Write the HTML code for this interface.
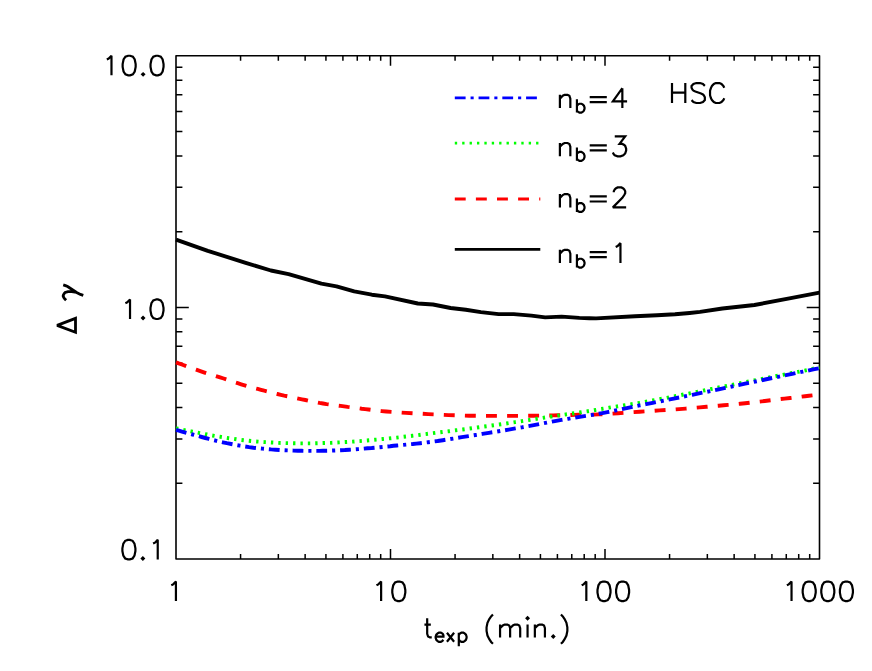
<!DOCTYPE html>
<html><head><meta charset="utf-8"><title>chart</title>
<style>html,body{margin:0;padding:0;background:#fff;font-family:"Liberation Sans",sans-serif;}svg{display:block}</style>
</head><body>
<svg width="872" height="671" viewBox="0 0 872 671">
<rect width="872" height="671" fill="#fff"/>
<path d="M176.00,55.80 H819.50 V559.00 H176.00 Z" fill="none" stroke="#000" stroke-width="1.6" stroke-linejoin="round"/>
<path d="M240.57,559.00 v-5.00 M240.57,55.80 v5.00 M278.34,559.00 v-5.00 M278.34,55.80 v5.00 M305.14,559.00 v-5.00 M305.14,55.80 v5.00 M325.93,559.00 v-5.00 M325.93,55.80 v5.00 M342.91,559.00 v-5.00 M342.91,55.80 v5.00 M357.27,559.00 v-5.00 M357.27,55.80 v5.00 M369.71,559.00 v-5.00 M369.71,55.80 v5.00 M380.69,559.00 v-5.00 M380.69,55.80 v5.00 M390.50,559.00 v-10.00 M390.50,55.80 v10.00 M455.07,559.00 v-5.00 M455.07,55.80 v5.00 M492.84,559.00 v-5.00 M492.84,55.80 v5.00 M519.64,559.00 v-5.00 M519.64,55.80 v5.00 M540.43,559.00 v-5.00 M540.43,55.80 v5.00 M557.41,559.00 v-5.00 M557.41,55.80 v5.00 M571.77,559.00 v-5.00 M571.77,55.80 v5.00 M584.21,559.00 v-5.00 M584.21,55.80 v5.00 M595.19,559.00 v-5.00 M595.19,55.80 v5.00 M605.00,559.00 v-10.00 M605.00,55.80 v10.00 M669.57,559.00 v-5.00 M669.57,55.80 v5.00 M707.34,559.00 v-5.00 M707.34,55.80 v5.00 M734.14,559.00 v-5.00 M734.14,55.80 v5.00 M754.93,559.00 v-5.00 M754.93,55.80 v5.00 M771.91,559.00 v-5.00 M771.91,55.80 v5.00 M786.27,559.00 v-5.00 M786.27,55.80 v5.00 M798.71,559.00 v-5.00 M798.71,55.80 v5.00 M809.69,559.00 v-5.00 M809.69,55.80 v5.00 M176.00,483.26 h6.40 M819.50,483.26 h-6.40 M176.00,438.96 h6.40 M819.50,438.96 h-6.40 M176.00,407.52 h6.40 M819.50,407.52 h-6.40 M176.00,383.14 h6.40 M819.50,383.14 h-6.40 M176.00,363.22 h6.40 M819.50,363.22 h-6.40 M176.00,346.37 h6.40 M819.50,346.37 h-6.40 M176.00,331.78 h6.40 M819.50,331.78 h-6.40 M176.00,318.91 h6.40 M819.50,318.91 h-6.40 M176.00,307.40 h12.80 M819.50,307.40 h-12.80 M176.00,231.66 h6.40 M819.50,231.66 h-6.40 M176.00,187.36 h6.40 M819.50,187.36 h-6.40 M176.00,155.92 h6.40 M819.50,155.92 h-6.40 M176.00,131.54 h6.40 M819.50,131.54 h-6.40 M176.00,111.62 h6.40 M819.50,111.62 h-6.40 M176.00,94.77 h6.40 M819.50,94.77 h-6.40 M176.00,80.18 h6.40 M819.50,80.18 h-6.40 M176.00,67.31 h6.40 M819.50,67.31 h-6.40" fill="none" stroke="#000" stroke-width="1.5"/>
<g fill="none" stroke-linejoin="round">
<path d="M176.0,239.7 L207.8,250.8 L245.7,262.9 L270.9,270.5 L288.6,274.2 L321.4,283.6 L336.5,286.3 L354.2,291.4 L371.8,294.7 L385.0,296.4 L417.8,303.5 L433.0,304.5 L450.6,308.0 L465.8,309.8 L480.9,312.1 L498.6,314.1 L513.7,314.1 L531.4,315.6 L545.2,317.4 L561.6,316.6 L579.3,317.9 L589.4,318.2 L596.0,318.4 L635.0,316.3 L657.0,315.2 L675.0,314.3 L689.7,313.0 L700.0,311.9 L722.4,308.5 L754.4,305.0 L789.4,298.3 L819.5,292.6" stroke="#000" stroke-width="3.9"/>
<path d="M176.0,362.4 L178.7,363.4 L182.5,364.7 L186.9,366.4 L191.6,368.1 L196.2,369.7 L200.3,371.1 L203.8,372.3 L207.2,373.4 L210.4,374.4 L213.6,375.3 L216.8,376.3 L220.1,377.4 L223.6,378.5 L227.1,379.7 L230.7,380.9 L234.2,382.1 L237.7,383.2 L241.2,384.3 L244.6,385.3 L247.9,386.3 L251.2,387.2 L254.4,388.1 L257.7,388.9 L261.0,389.8 L264.3,390.7 L267.6,391.5 L270.8,392.4 L274.1,393.2 L277.4,394.0 L280.8,394.8 L284.2,395.6 L287.7,396.3 L291.3,397.1 L294.8,397.8 L298.4,398.6 L301.9,399.3 L305.4,400.0 L308.9,400.8 L312.4,401.5 L316.0,402.2 L319.5,402.9 L323.0,403.5 L326.5,404.1 L330.0,404.6 L333.6,405.0 L337.1,405.5 L340.6,405.9 L344.1,406.4 L347.6,406.9 L351.1,407.3 L354.7,407.8 L358.2,408.2 L361.7,408.7 L365.2,409.1 L368.5,409.5 L371.5,409.9 L374.5,410.3 L377.7,410.7 L381.6,411.1 L386.3,411.5 L392.1,411.9 L398.8,412.4 L406.0,412.9 L413.5,413.3 L421.0,413.7 L428.2,414.1 L435.1,414.4 L441.9,414.8 L448.6,415.1 L455.4,415.3 L462.2,415.5 L469.1,415.7 L476.1,415.8 L483.1,415.9 L490.1,415.9 L497.2,415.9 L504.3,415.9 L511.3,415.9 L518.6,415.9 L526.1,415.8 L533.7,415.7 L541.0,415.6 L547.7,415.5 L553.5,415.4 L558.2,415.3 L562.0,415.2 L565.2,415.1 L568.1,415.1 L571.2,415.0 L574.6,414.9 L578.2,414.8 L581.7,414.8 L585.2,414.8 L589.1,414.7 L593.4,414.6 L598.4,414.4 L604.3,414.1 L610.9,413.7 L618.0,413.2 L625.3,412.7 L632.6,412.2 L639.6,411.7 L646.3,411.3 L652.9,410.9 L659.5,410.4 L666.0,410.0 L672.5,409.6 L679.1,409.1 L685.8,408.6 L692.8,408.0 L699.7,407.4 L706.5,406.8 L712.9,406.2 L718.7,405.7 L723.7,405.3 L728.0,404.9 L731.9,404.6 L735.8,404.2 L740.1,403.8 L745.1,403.3 L751.1,402.6 L757.7,401.8 L764.8,401.0 L771.8,400.1 L778.5,399.3 L784.6,398.6 L790.1,398.0 L795.5,397.3 L800.5,396.8 L805.0,396.2 L809.0,395.8 L812.3,395.4 L814.8,395.1 L816.5,394.9 L817.6,394.8 L818.4,394.7 L819.0,394.7 L819.5,394.6" stroke="#ff0000" stroke-width="3.9" stroke-dasharray="10.9 10.2"/>
<path d="M176.0,428.3 L178.6,428.8 L182.3,429.6 L186.5,430.5 L191.1,431.4 L195.7,432.3 L199.8,433.1 L203.5,433.8 L207.1,434.5 L210.7,435.2 L214.2,435.8 L217.8,436.4 L221.4,437.0 L225.1,437.6 L228.9,438.2 L232.7,438.7 L236.5,439.3 L240.2,439.8 L243.9,440.2 L247.5,440.6 L251.0,441.0 L254.5,441.3 L258.0,441.6 L261.5,441.9 L265.0,442.1 L268.5,442.3 L272.0,442.5 L275.5,442.7 L279.0,442.9 L282.5,443.0 L286.0,443.1 L289.5,443.2 L293.1,443.3 L296.6,443.3 L300.1,443.4 L303.7,443.4 L307.2,443.4 L310.7,443.4 L314.2,443.3 L317.8,443.2 L321.3,443.1 L324.8,443.0 L328.3,442.9 L331.8,442.8 L335.3,442.6 L338.9,442.4 L342.4,442.2 L345.9,442.0 L349.4,441.8 L352.9,441.6 L356.2,441.3 L359.6,441.1 L363.1,440.8 L366.7,440.5 L370.5,440.2 L374.5,439.8 L378.7,439.5 L383.0,439.0 L387.4,438.6 L392.1,438.1 L396.9,437.6 L401.9,437.0 L407.1,436.4 L412.4,435.8 L418.0,435.1 L423.7,434.3 L429.6,433.6 L435.8,432.8 L442.3,432.0 L448.9,431.2 L455.7,430.3 L462.4,429.5 L469.1,428.6 L475.7,427.7 L482.3,426.8 L488.9,425.9 L495.5,425.0 L502.1,424.1 L508.7,423.1 L515.3,422.1 L521.9,421.1 L528.5,420.1 L535.1,419.0 L541.7,418.0 L548.3,417.0 L555.0,416.0 L561.8,415.0 L568.6,414.0 L575.3,413.1 L581.7,412.1 L587.8,411.2 L593.5,410.3 L598.9,409.4 L604.1,408.6 L609.1,407.7 L613.8,406.9 L618.2,406.2 L622.1,405.6 L625.3,405.1 L628.3,404.7 L631.5,404.2 L635.1,403.6 L639.6,402.8 L645.1,401.8 L651.4,400.6 L658.2,399.4 L665.3,398.1 L672.3,396.7 L679.1,395.4 L685.7,394.1 L692.3,392.8 L698.9,391.5 L705.5,390.2 L712.1,388.8 L718.7,387.5 L725.3,386.2 L731.9,384.9 L738.5,383.5 L745.1,382.2 L751.7,380.9 L758.3,379.6 L765.1,378.3 L772.1,376.9 L779.2,375.5 L786.0,374.2 L792.2,373.0 L797.8,371.9 L802.7,370.9 L807.2,370.0 L811.1,369.2 L814.5,368.4 L817.3,367.9 L819.5,367.4" stroke="#00ff00" stroke-width="3.9" stroke-dasharray="2.35 5.04"/>
<path d="M176.0,429.9 L178.8,430.7 L182.8,431.8 L187.5,433.1 L192.5,434.5 L197.4,435.8 L201.7,437.0 L205.4,438.0 L208.9,438.9 L212.2,439.8 L215.6,440.6 L219.0,441.5 L222.8,442.3 L226.9,443.2 L231.2,444.0 L235.6,444.9 L240.1,445.7 L244.7,446.4 L249.1,447.1 L253.5,447.7 L257.9,448.2 L262.3,448.6 L266.7,449.0 L271.1,449.4 L275.5,449.7 L280.0,450.0 L284.5,450.2 L289.0,450.4 L293.5,450.6 L297.8,450.7 L301.9,450.8 L305.7,450.9 L309.1,450.9 L312.4,450.9 L315.8,450.9 L319.2,450.9 L323.0,450.8 L327.1,450.7 L331.4,450.6 L335.9,450.4 L340.4,450.2 L344.9,450.0 L349.4,449.7 L353.9,449.4 L358.4,449.1 L362.9,448.7 L367.4,448.3 L371.7,448.0 L375.8,447.6 L379.6,447.2 L383.3,446.9 L386.8,446.5 L390.2,446.2 L393.5,445.8 L396.9,445.5 L400.2,445.2 L403.3,444.9 L406.3,444.6 L409.4,444.3 L412.8,444.0 L416.4,443.6 L420.2,443.2 L424.2,442.7 L428.3,442.2 L432.8,441.6 L437.6,441.0 L442.8,440.2 L448.6,439.3 L455.0,438.3 L461.7,437.2 L468.6,436.1 L475.6,435.0 L482.3,433.9 L488.9,432.8 L495.5,431.8 L502.1,430.7 L508.7,429.6 L515.3,428.4 L521.9,427.3 L528.5,426.1 L535.1,424.9 L541.7,423.6 L548.3,422.3 L554.9,421.1 L561.5,419.9 L568.1,418.8 L574.7,417.7 L581.3,416.6 L587.9,415.6 L594.5,414.5 L601.0,413.3 L607.5,412.1 L613.9,410.8 L620.3,409.4 L626.7,408.1 L633.1,406.7 L639.6,405.4 L646.1,404.1 L652.7,402.8 L659.3,401.5 L665.9,400.2 L672.5,398.8 L679.1,397.5 L685.7,396.2 L692.3,394.8 L698.9,393.4 L705.5,392.1 L712.1,390.7 L718.7,389.3 L725.3,387.9 L731.9,386.5 L738.5,385.1 L745.1,383.7 L751.7,382.3 L758.3,380.9 L765.1,379.5 L772.1,378.0 L779.2,376.6 L786.0,375.2 L792.2,373.9 L797.8,372.7 L802.7,371.7 L807.2,370.8 L811.1,369.9 L814.5,369.2 L817.3,368.6 L819.5,368.2" stroke="#0000ff" stroke-width="3.9" stroke-dasharray="10.8 4.97 3.1 4.89"/>
</g>
<path d="M171.28,585.29 L173.14,584.36 L175.93,581.57 L175.93,601.10 M376.48,585.29 L378.34,584.36 L381.13,581.57 L381.13,601.10 M397.87,581.57 L395.08,582.50 L393.22,585.29 L392.29,589.94 L392.29,592.73 L393.22,597.38 L395.08,600.17 L397.87,601.10 L399.73,601.10 L402.52,600.17 L404.38,597.38 L405.31,592.73 L405.31,589.94 L404.38,585.29 L402.52,582.50 L399.73,581.57 Z M581.68,585.29 L583.54,584.36 L586.33,581.57 L586.33,601.10 M603.07,581.57 L600.28,582.50 L598.42,585.29 L597.49,589.94 L597.49,592.73 L598.42,597.38 L600.28,600.17 L603.07,601.10 L604.93,601.10 L607.72,600.17 L609.58,597.38 L610.51,592.73 L610.51,589.94 L609.58,585.29 L607.72,582.50 L604.93,581.57 Z M621.67,581.57 L618.88,582.50 L617.02,585.29 L616.09,589.94 L616.09,592.73 L617.02,597.38 L618.88,600.17 L621.67,601.10 L623.53,601.10 L626.32,600.17 L628.18,597.38 L629.11,592.73 L629.11,589.94 L628.18,585.29 L626.32,582.50 L623.53,581.57 Z M786.88,585.29 L788.74,584.36 L791.53,581.57 L791.53,601.10 M808.27,581.57 L805.48,582.50 L803.62,585.29 L802.69,589.94 L802.69,592.73 L803.62,597.38 L805.48,600.17 L808.27,601.10 L810.13,601.10 L812.92,600.17 L814.78,597.38 L815.71,592.73 L815.71,589.94 L814.78,585.29 L812.92,582.50 L810.13,581.57 Z M826.87,581.57 L824.08,582.50 L822.22,585.29 L821.29,589.94 L821.29,592.73 L822.22,597.38 L824.08,600.17 L826.87,601.10 L828.73,601.10 L831.52,600.17 L833.38,597.38 L834.31,592.73 L834.31,589.94 L833.38,585.29 L831.52,582.50 L828.73,581.57 Z M845.47,581.57 L842.68,582.50 L840.82,585.29 L839.89,589.94 L839.89,592.73 L840.82,597.38 L842.68,600.17 L845.47,601.10 L847.33,601.10 L850.12,600.17 L851.98,597.38 L852.91,592.73 L852.91,589.94 L851.98,585.29 L850.12,582.50 L847.33,581.57 Z M106.83,59.49 L108.69,58.56 L111.48,55.77 L111.48,75.30 M128.22,55.77 L125.43,56.70 L123.57,59.49 L122.64,64.14 L122.64,66.93 L123.57,71.58 L125.43,74.37 L128.22,75.30 L130.08,75.30 L132.87,74.37 L134.73,71.58 L135.66,66.93 L135.66,64.14 L134.73,59.49 L132.87,56.70 L130.08,55.77 Z M143.10,73.44 L142.17,74.37 L143.10,75.30 L144.03,74.37 Z M156.12,55.77 L153.33,56.70 L151.47,59.49 L150.54,64.14 L150.54,66.93 L151.47,71.58 L153.33,74.37 L156.12,75.30 L157.98,75.30 L160.77,74.37 L162.63,71.58 L163.56,66.93 L163.56,64.14 L162.63,59.49 L160.77,56.70 L157.98,55.77 Z M125.38,303.19 L127.24,302.26 L130.03,299.47 L130.03,319.00 M143.05,317.14 L142.12,318.07 L143.05,319.00 L143.98,318.07 Z M156.07,299.47 L153.28,300.40 L151.42,303.19 L150.49,307.84 L150.49,310.63 L151.42,315.28 L153.28,318.07 L156.07,319.00 L157.93,319.00 L160.72,318.07 L162.58,315.28 L163.51,310.63 L163.51,307.84 L162.58,303.19 L160.72,300.40 L157.93,299.47 Z M127.97,539.87 L125.18,540.80 L123.32,543.59 L122.39,548.24 L122.39,551.03 L123.32,555.68 L125.18,558.47 L127.97,559.40 L129.83,559.40 L132.62,558.47 L134.48,555.68 L135.41,551.03 L135.41,548.24 L134.48,543.59 L132.62,540.80 L129.83,539.87 Z M142.85,557.54 L141.92,558.47 L142.85,559.40 L143.78,558.47 Z M153.08,543.59 L154.94,542.66 L157.73,539.87 L157.73,559.40 M559.90,94.80 L559.90,108.10 M559.90,98.60 L562.75,95.75 L564.65,94.80 L567.50,94.80 L569.40,95.75 L570.35,98.60 L570.35,108.10 M576.93,99.31 L576.93,112.60 M576.93,105.64 L578.20,104.37 L579.46,103.74 L581.36,103.74 L582.63,104.37 L583.89,105.64 L584.53,107.54 L584.53,108.80 L583.89,110.70 L582.63,111.97 L581.36,112.60 L579.46,112.60 L578.20,111.97 L576.93,110.70 M589.70,97.08 L606.80,97.08 M589.70,102.21 L606.80,102.21 M622.35,88.15 L612.85,101.45 L627.10,101.45 M622.35,88.15 L622.35,108.10 M559.90,143.00 L559.90,156.30 M559.90,146.80 L562.75,143.95 L564.65,143.00 L567.50,143.00 L569.40,143.95 L570.35,146.80 L570.35,156.30 M576.93,147.51 L576.93,160.80 M576.93,153.84 L578.20,152.57 L579.46,151.94 L581.36,151.94 L582.63,152.57 L583.89,153.84 L584.53,155.74 L584.53,157.00 L583.89,158.90 L582.63,160.17 L581.36,160.80 L579.46,160.80 L578.20,160.17 L576.93,158.90 M589.70,145.28 L606.80,145.28 M589.70,150.41 L606.80,150.41 M614.75,136.35 L625.20,136.35 L619.50,143.95 L622.35,143.95 L624.25,144.90 L625.20,145.85 L626.15,148.70 L626.15,150.60 L625.20,153.45 L623.30,155.35 L620.45,156.30 L617.60,156.30 L614.75,155.35 L613.80,154.40 L612.85,152.50 M559.90,194.10 L559.90,207.40 M559.90,197.90 L562.75,195.05 L564.65,194.10 L567.50,194.10 L569.40,195.05 L570.35,197.90 L570.35,207.40 M576.93,198.61 L576.93,211.90 M576.93,204.94 L578.20,203.67 L579.46,203.04 L581.36,203.04 L582.63,203.67 L583.89,204.94 L584.53,206.84 L584.53,208.10 L583.89,210.00 L582.63,211.27 L581.36,211.90 L579.46,211.90 L578.20,211.27 L576.93,210.00 M589.70,196.38 L606.80,196.38 M589.70,201.51 L606.80,201.51 M613.80,192.20 L613.80,191.25 L614.75,189.35 L615.70,188.40 L617.60,187.45 L621.40,187.45 L623.30,188.40 L624.25,189.35 L625.20,191.25 L625.20,193.15 L624.25,195.05 L622.35,197.90 L612.85,207.40 L626.15,207.40 M559.90,249.80 L559.90,263.10 M559.90,253.60 L562.75,250.75 L564.65,249.80 L567.50,249.80 L569.40,250.75 L570.35,253.60 L570.35,263.10 M576.93,254.31 L576.93,267.60 M576.93,260.64 L578.20,259.37 L579.46,258.74 L581.36,258.74 L582.63,259.37 L583.89,260.64 L584.53,262.54 L584.53,263.80 L583.89,265.70 L582.63,266.97 L581.36,267.60 L579.46,267.60 L578.20,266.97 L576.93,265.70 M589.70,252.08 L606.80,252.08 M589.70,257.21 L606.80,257.21 M615.70,246.95 L617.60,246.00 L620.45,243.15 L620.45,263.10 M672.00,83.05 L672.00,103.00 M685.30,83.05 L685.30,103.00 M672.00,92.55 L685.30,92.55 M704.85,85.90 L702.95,84.00 L700.10,83.05 L696.30,83.05 L693.45,84.00 L691.55,85.90 L691.55,87.80 L692.50,89.70 L693.45,90.65 L695.35,91.60 L701.05,93.50 L702.95,94.45 L703.90,95.40 L704.85,97.30 L704.85,100.15 L702.95,102.05 L700.10,103.00 L696.30,103.00 L693.45,102.05 L691.55,100.15 M724.30,87.80 L723.35,85.90 L721.45,84.00 L719.55,83.05 L715.75,83.05 L713.85,84.00 L711.95,85.90 L711.00,87.80 L710.05,90.65 L710.05,95.40 L711.00,98.25 L711.95,100.15 L713.85,102.05 L715.75,103.00 L719.55,103.00 L721.45,102.05 L723.35,100.15 L724.30,98.25 M427.18,618.18 L427.18,633.74 L428.09,636.49 L429.92,637.40 L431.75,637.40 M424.43,624.59 L430.84,624.59 M435.65,636.60 L443.45,636.60 L443.45,635.30 L442.80,634.00 L442.15,633.35 L440.85,632.70 L438.90,632.70 L437.60,633.35 L436.30,634.65 L435.65,636.60 L435.65,637.90 L436.30,639.85 L437.60,641.15 L438.90,641.80 L440.85,641.80 L442.15,641.15 L443.45,639.85 M446.95,632.70 L454.10,641.80 M454.10,632.70 L446.95,641.80 M458.80,632.70 L458.80,646.35 M458.80,634.65 L460.10,633.35 L461.40,632.70 L463.35,632.70 L464.65,633.35 L465.95,634.65 L466.60,636.60 L466.60,637.90 L465.95,639.85 L464.65,641.15 L463.35,641.80 L461.40,641.80 L460.10,641.15 L458.80,639.85 M492.96,614.52 L491.13,616.36 L489.30,619.10 L487.47,622.76 L486.56,627.33 L486.56,631.00 L487.47,635.57 L489.30,639.23 L491.13,641.98 L492.96,643.80 M500.06,624.59 L500.06,637.40 M500.06,628.25 L502.80,625.50 L504.63,624.59 L507.38,624.59 L509.21,625.50 L510.12,628.25 L510.12,637.40 M510.12,628.25 L512.87,625.50 L514.70,624.59 L517.44,624.59 L519.27,625.50 L520.19,628.25 L520.19,637.40 M526.64,618.18 L527.56,619.10 L528.48,618.18 L527.56,617.27 Z M527.56,624.59 L527.56,637.40 M534.86,624.59 L534.86,637.40 M534.86,628.25 L537.61,625.50 L539.44,624.59 L542.18,624.59 L544.01,625.50 L544.93,628.25 L544.93,637.40 M553.28,635.57 L552.36,636.49 L553.28,637.40 L554.19,636.49 Z M560.95,614.52 L562.78,616.36 L564.61,619.10 L566.44,622.76 L567.35,627.33 L567.35,631.00 L566.44,635.57 L564.61,639.23 L562.78,641.98 L560.95,643.80" fill="none" stroke="#000" stroke-width="2.20" stroke-linejoin="miter" stroke-miterlimit="2.5" stroke-linecap="butt"/>
<path d="M57.12,325.32 L75.50,332.32 L75.50,318.32 Z M66.09,300.15 L64.19,298.24 L63.23,296.33 L63.23,295.37 L64.19,293.46 L65.14,292.50 L68.00,291.55 L71.82,291.55 L76.60,292.50 M63.23,284.87 L66.09,285.82 L68.00,286.78 L76.60,292.50 L80.42,294.42 L83.28,295.37" fill="none" stroke="#000" stroke-width="2.8" stroke-linejoin="miter" stroke-miterlimit="2.5" stroke-linecap="butt"/>
<g fill="none" stroke-width="2.8">
<path d="M454.8,97.85 H540.3" stroke="#0000ff" stroke-dasharray="10.8 4.97 3.1 4.89"/>
<path d="M454.8,143.05 H540.3" stroke="#00ff00" stroke-dasharray="2.35 5.04"/>
<path d="M454.8,199.0 H540.3" stroke="#ff0000" stroke-dasharray="10.9 10.2"/>
<path d="M454.8,249.4 H540.3" stroke="#000"/>
</g>
</svg>
</body></html>
